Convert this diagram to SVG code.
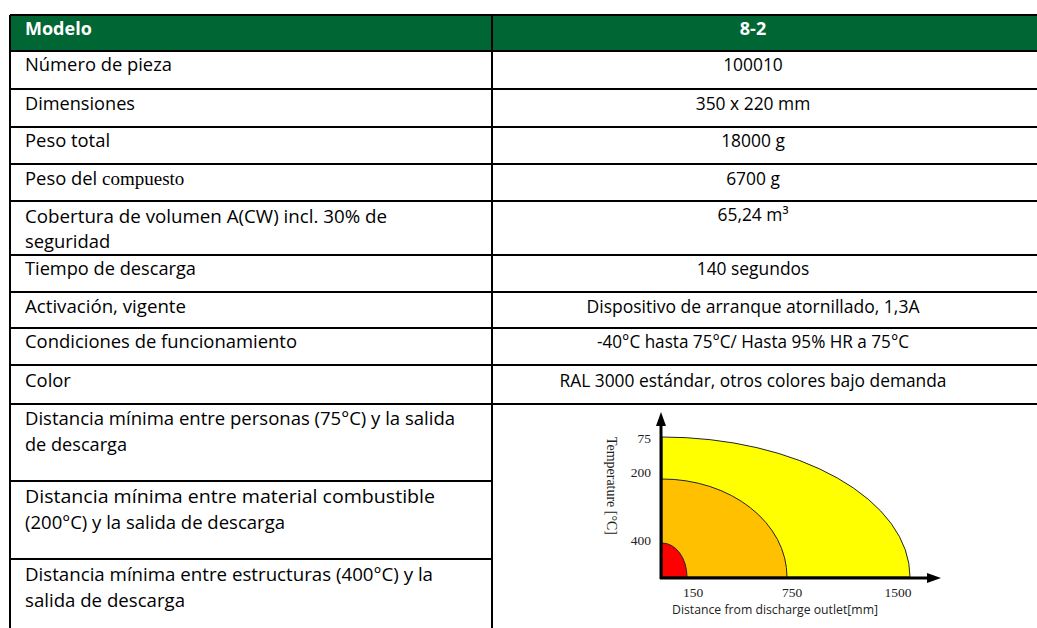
<svg xmlns="http://www.w3.org/2000/svg" width="1037" height="628" viewBox="0 0 1037 628">
<style>
.t{font-family:"Open Sans","Liberation Sans",sans-serif;font-size:18.4px;fill:#000}
.r{font-family:"Open Sans","Liberation Sans",sans-serif;font-size:17.4px;fill:#000;text-anchor:middle}
.h{font-family:"Open Sans","Liberation Sans",sans-serif;font-size:18px;font-weight:bold;fill:#fff}
.ser{font-family:"Liberation Serif",serif;font-size:19px}
.g{stroke:#000;stroke-width:2;fill:none}
.n{font-family:"Liberation Serif",serif;font-size:13.5px;fill:#222}
.ax{font-family:"Open Sans","Liberation Sans",sans-serif;font-size:12.3px;fill:#222}
.z{stroke:#222;stroke-width:1}
</style>
<rect width="1037" height="628" fill="#fff"/>
<g id="header">
<rect x="10" y="15" width="1027" height="36" fill="#006633"/>
<text class="h" x="25" y="35">Modelo</text>
<text class="h" x="753" y="35" text-anchor="middle">8-2</text>
</g>
<g id="grid">
<path class="g" d="M10,15H1037M10,51H1037M10,89H1037M10,127H1037M10,164H1037M10,201H1037M10,255H1037M10,292H1037M10,328H1037M10,365H1037M10,404H1037M10,481H492M10,559H492M10,15V628M492,15V628"/>
</g>
<g id="row1"><text class="t" x="25" y="71" textLength="147" lengthAdjust="spacingAndGlyphs">Número de pieza</text><text class="r" x="753" y="71">100010</text></g>
<g id="row2"><text class="t" x="25" y="110" textLength="110" lengthAdjust="spacingAndGlyphs">Dimensiones</text><text class="r" x="753" y="110">350 x 220 mm</text></g>
<g id="row3"><text class="t" x="25" y="147">Peso total</text><text class="r" x="753" y="147">18000 g</text></g>
<g id="row4"><text class="t" x="25" y="185">Peso del <tspan class="ser">compuesto</tspan></text><text class="r" x="753" y="185">6700 g</text></g>
<g id="row5"><text class="t" x="25" y="223" textLength="362" lengthAdjust="spacingAndGlyphs">Cobertura de volumen A(CW) incl. 30% de</text><text class="t" x="25" y="248">seguridad</text><text class="r" x="753" y="221">65,24 m³</text></g>
<g id="row6"><text class="t" x="25" y="275" textLength="171" lengthAdjust="spacingAndGlyphs">Tiempo de descarga</text><text class="r" x="753" y="275">140 segundos</text></g>
<g id="row7"><text class="t" x="25" y="313" textLength="161" lengthAdjust="spacingAndGlyphs">Activación, vigente</text><text class="r" x="753" y="313" textLength="333" lengthAdjust="spacingAndGlyphs">Dispositivo de arranque atornillado, 1,3A</text></g>
<g id="row8"><text class="t" x="25" y="348" textLength="272" lengthAdjust="spacingAndGlyphs">Condiciones de funcionamiento</text><text class="r" x="753" y="348" textLength="312" lengthAdjust="spacingAndGlyphs">-40°C hasta 75°C/ Hasta 95% HR a 75°C</text></g>
<g id="row9"><text class="t" x="25" y="387">Color</text><text class="r" x="753" y="387" textLength="387" lengthAdjust="spacingAndGlyphs">RAL 3000 estándar, otros colores bajo demanda</text></g>
<g id="row10"><text class="t" x="25" y="425" textLength="430" lengthAdjust="spacingAndGlyphs">Distancia mínima entre personas (75°C) y la salida</text><text class="t" x="25" y="451" textLength="102" lengthAdjust="spacingAndGlyphs">de descarga</text></g>
<g id="row11"><text class="t" x="25" y="503" textLength="410" lengthAdjust="spacingAndGlyphs">Distancia mínima entre material combustible</text><text class="t" x="25" y="529" textLength="260" lengthAdjust="spacingAndGlyphs">(200°C) y la salida de descarga</text></g>
<g id="row12"><text class="t" x="25" y="581" textLength="408" lengthAdjust="spacingAndGlyphs">Distancia mínima entre estructuras (400°C) y la</text><text class="t" x="25" y="607" textLength="160" lengthAdjust="spacingAndGlyphs">salida de descarga</text></g>
<g id="chart">
<path class="z" d="M662,577 V437 A248,140 0 0 1 910,577 Z" fill="#ffff00"/>
<path class="z" d="M662,577 V479 A125,98 0 0 1 787,577 Z" fill="#ffc000"/>
<path class="z" d="M662,577 V543 A25,34 0 0 1 687,577 Z" fill="#ff0000"/>
<g id="connectors">
<line x1="661" y1="579" x2="661" y2="422" stroke="#000" stroke-width="3"/>
<path d="M656,426 L661,412 L666,426 Z" fill="#000"/>
<line x1="660" y1="578" x2="930" y2="578" stroke="#000" stroke-width="3"/>
<path d="M927,573 L941,578 L927,583 Z" fill="#000"/>
</g>
<text class="n" x="651" y="443" text-anchor="end">75</text>
<text class="n" x="651" y="477" text-anchor="end">200</text>
<text class="n" x="651" y="545" text-anchor="end">400</text>
<text class="n" x="693" y="597" text-anchor="middle">150</text>
<text class="n" x="792" y="597" text-anchor="middle">750</text>
<text class="n" x="898" y="597" text-anchor="middle">1500</text>
<text class="n" transform="translate(607,437) rotate(90)" style="font-size:14.5px" textLength="98" lengthAdjust="spacingAndGlyphs">Temperature [°C]</text>
<text class="ax" x="672" y="614" textLength="206" lengthAdjust="spacingAndGlyphs">Distance from discharge outlet[mm]</text>
</g>
</svg>
